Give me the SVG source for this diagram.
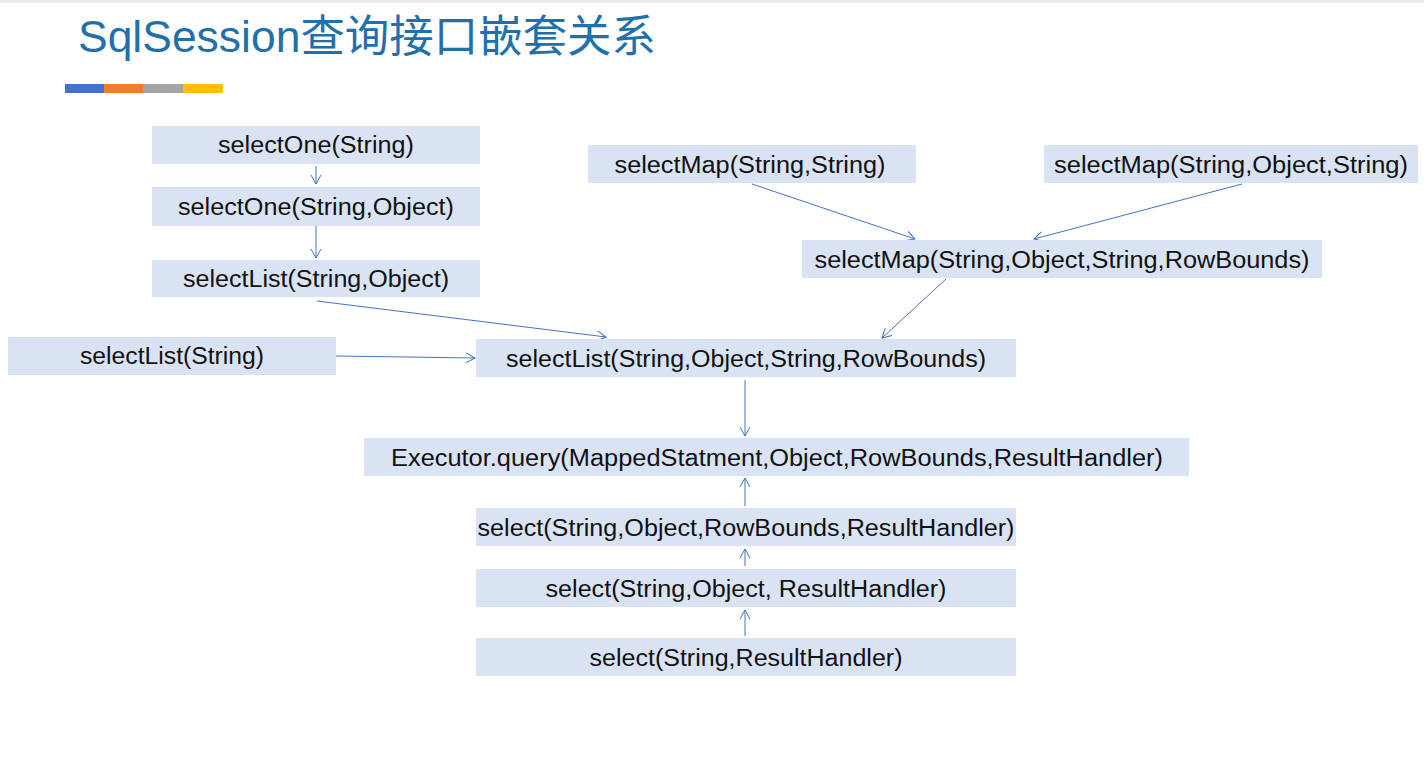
<svg xmlns="http://www.w3.org/2000/svg" width="1424" height="770" viewBox="0 0 1424 770">
<style>
.box{fill:#DAE3F3}
.t{font-family:"Liberation Sans","Noto Sans CJK SC",sans-serif;font-size:23px;fill:#111;text-anchor:middle}
.title{font-family:"Liberation Sans","Noto Sans CJK SC",sans-serif;font-size:44px;fill:#2170AE}
.c{stroke:#4472C4;stroke-width:1;fill:none;marker-end:url(#ah)}
</style>
<defs>
<marker id="ah" markerUnits="userSpaceOnUse" markerWidth="12" markerHeight="12" refX="10" refY="6" orient="auto">
<path d="M1,1 L10,6 L1,11" fill="none" stroke="#4472C4" stroke-width="1"/>
</marker>
</defs>
<rect x="0" y="0" width="1424" height="770" fill="#fff"/>
<rect x="0" y="0" width="1424" height="3" fill="#ececec"/>
<g id="title">
<text class="title" x="78" y="52" textLength="578" lengthAdjust="spacingAndGlyphs">SqlSession查询接口嵌套关系</text>
<rect x="65" y="84" width="39" height="9" fill="#4472C4"/>
<rect x="104" y="84" width="39" height="9" fill="#ED7D31"/>
<rect x="143" y="84" width="40" height="9" fill="#A5A5A5"/>
<rect x="183" y="84" width="40" height="9" fill="#FFC000"/>
</g>
<g id="connectors">
<line class="c" x1="316" y1="166" x2="316" y2="184"/>
<line class="c" x1="316" y1="226" x2="316" y2="258"/>
<line class="c" x1="317" y1="301" x2="606" y2="337"/>
<line class="c" x1="336" y1="356" x2="475" y2="358"/>
<line class="c" x1="752" y1="184" x2="915" y2="239"/>
<line class="c" x1="1242" y1="184" x2="1034" y2="239"/>
<line class="c" x1="946" y1="279" x2="882" y2="338"/>
<line class="c" x1="745" y1="380" x2="745" y2="436"/>
<line class="c" x1="745" y1="506" x2="745" y2="478"/>
<line class="c" x1="745" y1="566" x2="745" y2="549"/>
<line class="c" x1="745" y1="636" x2="745" y2="610"/>
</g>
<g id="n1"><rect class="box" x="152" y="126" width="328" height="38"/><text class="t" x="316" y="153" textLength="196" lengthAdjust="spacingAndGlyphs">selectOne(String)</text></g>
<g id="n2"><rect class="box" x="152" y="187" width="328" height="39"/><text class="t" x="316" y="215" textLength="276" lengthAdjust="spacingAndGlyphs">selectOne(String,Object)</text></g>
<g id="n3"><rect class="box" x="152" y="260" width="328" height="37"/><text class="t" x="316" y="287" textLength="266" lengthAdjust="spacingAndGlyphs">selectList(String,Object)</text></g>
<g id="n4"><rect class="box" x="8" y="337" width="328" height="38"/><text class="t" x="172" y="364" textLength="184" lengthAdjust="spacingAndGlyphs">selectList(String)</text></g>
<g id="n5"><rect class="box" x="476" y="339" width="540" height="38"/><text class="t" x="746" y="367" textLength="480" lengthAdjust="spacingAndGlyphs">selectList(String,Object,String,RowBounds)</text></g>
<g id="n6"><rect class="box" x="588" y="145" width="328" height="38"/><text class="t" x="750" y="173" textLength="271" lengthAdjust="spacingAndGlyphs">selectMap(String,String)</text></g>
<g id="n7"><rect class="box" x="1044" y="145" width="374" height="38"/><text class="t" x="1231" y="173" textLength="354" lengthAdjust="spacingAndGlyphs">selectMap(String,Object,String)</text></g>
<g id="n8"><rect class="box" x="802" y="240" width="520" height="38"/><text class="t" x="1062" y="268" textLength="495" lengthAdjust="spacingAndGlyphs">selectMap(String,Object,String,RowBounds)</text></g>
<g id="n9"><rect class="box" x="364" y="438" width="825" height="38"/><text class="t" x="777" y="466" textLength="772" lengthAdjust="spacingAndGlyphs">Executor.query(MappedStatment,Object,RowBounds,ResultHandler)</text></g>
<g id="n10"><rect class="box" x="476" y="508" width="540" height="38"/><text class="t" x="746" y="536" textLength="537" lengthAdjust="spacingAndGlyphs">select(String,Object,RowBounds,ResultHandler)</text></g>
<g id="n11"><rect class="box" x="476" y="569" width="540" height="38"/><text class="t" x="746" y="597" textLength="401" lengthAdjust="spacingAndGlyphs">select(String,Object, ResultHandler)</text></g>
<g id="n12"><rect class="box" x="476" y="638" width="540" height="38"/><text class="t" x="746" y="666" textLength="313" lengthAdjust="spacingAndGlyphs">select(String,ResultHandler)</text></g>
</svg>
